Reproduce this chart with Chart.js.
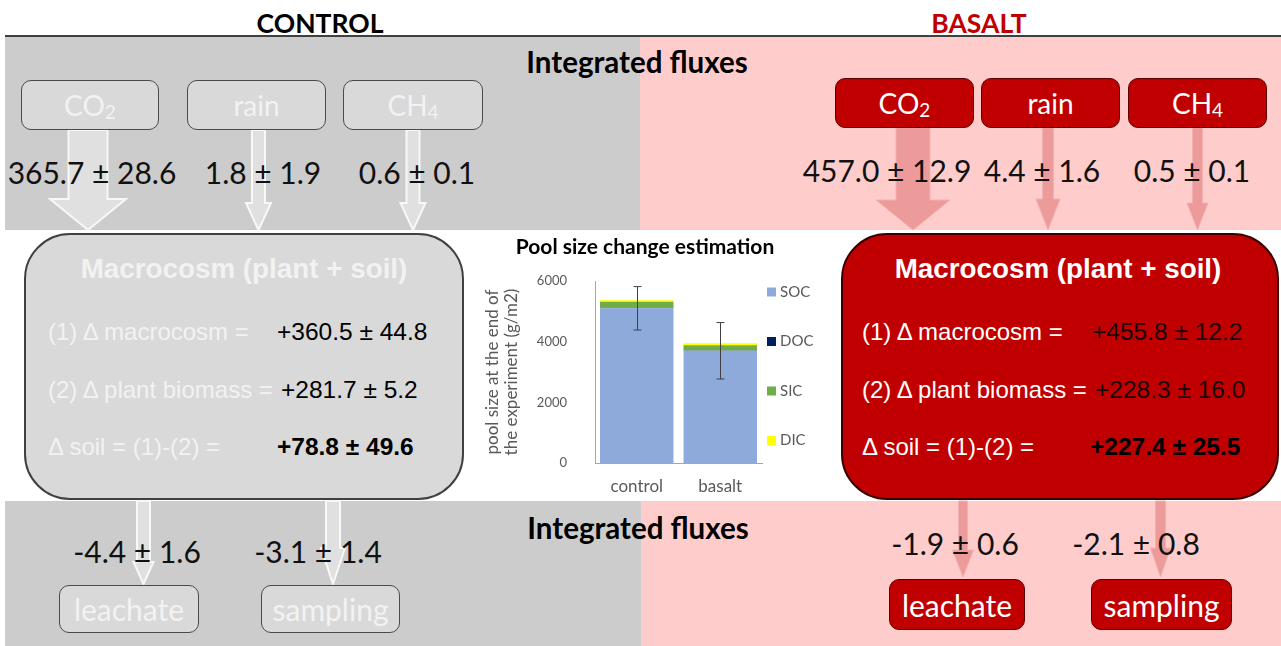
<!DOCTYPE html>
<html>
<head>
<meta charset="utf-8">
<script src="https://cdn.jsdelivr.net/npm/chart.js@4.4.1/dist/chart.umd.min.js"></script>
<style>
  body { margin: 0; background: #fff; }
  #page { position: relative; width: 1281px; height: 646px; overflow: hidden; font-family: Lato, sans-serif; }
  .band { position: absolute; }
  .t { position: absolute; white-space: nowrap; line-height: 1; transform: translate(-50%, -50%); }
  .l { position: absolute; white-space: nowrap; line-height: 1; transform: translateY(-50%); }
  .box { position: absolute; box-sizing: border-box; border-radius: 10px; display: flex; align-items: center; justify-content: center; font-size: 28px; }
  .ctl { background: #d9d9d9; border: 1.5px solid #4a4a4a; color: #f2f2f2; }
  .bas { background: #c00000; border: 1.5px solid #5c0000; color: #fff; }
  .val { font-size: 30px; color: #111; }
  .macro { position: absolute; box-sizing: border-box; border-radius: 46px; top: 233px; height: 267px; }
  .mt { font-family: "Liberation Sans", Arial, sans-serif; font-weight: bold; font-size: 27.8px; }
  .ml { font-family: "Liberation Sans", Arial, sans-serif; font-size: 24px; }
  .mv { font-family: "Liberation Sans", Arial, sans-serif; font-size: 24.5px; }
  .sub { font-size: 0.68em; position: relative; top: 0.32em; }
  #chartBox { position: absolute; left: 470px; top: 233px; width: 350px; height: 267px; }
</style>
</head>
<body>
<div id="page">
  <!-- backgrounds -->
  <div class="band" style="left:5px;top:37px;width:635px;height:193px;background:#cccccc"></div>
  <div class="band" style="left:640px;top:37px;width:641px;height:193px;background:#ffcccc"></div>
  <div class="band" style="left:5px;top:501px;width:636px;height:145px;background:#cccccc"></div>
  <div class="band" style="left:641px;top:501px;width:640px;height:145px;background:#ffcccc"></div>
  <div class="band" style="left:5px;top:35px;width:1276px;height:2px;background:#404040"></div>

  <div class="t" style="left:320px;top:23px;font-size:26.5px;font-weight:bold;color:#000">CONTROL</div>
  <div class="t" style="left:979px;top:23px;font-size:26.5px;font-weight:bold;color:#c00000">BASALT</div>
  <div class="t" style="left:637px;top:62px;font-size:29.5px;font-weight:bold;color:#000">Integrated fluxes</div>
  <div class="t" style="left:638px;top:528px;font-size:29.5px;font-weight:bold;color:#000">Integrated fluxes</div>

  <!-- arrows -->
  <svg width="1281" height="646" style="position:absolute;left:0;top:0">
    <g fill="#e0e0e0" stroke="#f8f8f8" stroke-width="2">
      <polygon points="68.5,130 107.5,130 107.5,199 126,199 88,230 50,199 68.5,199"/>
      <polygon points="252,130 265,130 265,203 271,203 258.5,230 246,203 252,203"/>
      <polygon points="406.5,130 419.5,130 419.5,203 425.5,203 413,230 400.5,203 406.5,203"/>
      <polygon points="137,501 150,501 150,562 153.5,562 143.5,584 133.5,562 137,562"/>
      <polygon points="326,501 340,501 340,548 345,548 333,584 321,548 326,548"/>
    </g>
    <g fill="#ec9a9a" stroke="#f2b0b0" stroke-width="1">
      <polygon points="896,127 930,127 930,200 950,200 913,230 876,200 896,200"/>
      <polygon points="1042.5,127 1053.5,127 1053.5,199 1060,199 1048,230 1036,199 1042.5,199"/>
      <polygon points="1192.5,127 1202.5,127 1202.5,203 1208,203 1197.5,230 1187,203 1192.5,203"/>
      <polygon points="958.5,501 967.5,501 967.5,550 973.5,550 963,577 952.5,550 958.5,550"/>
      <polygon points="1155.5,501 1165.5,501 1165.5,548 1170.5,548 1160.5,577 1150.5,548 1155.5,548"/>
    </g>
  </svg>

  <!-- control top boxes -->
  <div class="box ctl" style="left:21px;top:80px;width:138px;height:50px">CO<span class="sub">2</span></div>
  <div class="box ctl" style="left:187px;top:80px;width:139px;height:50px">rain</div>
  <div class="box ctl" style="left:343px;top:80px;width:140px;height:50px">CH<span class="sub">4</span></div>
  <!-- basalt top boxes -->
  <div class="box bas" style="left:835px;top:78px;width:139px;height:50px">CO<span class="sub">2</span></div>
  <div class="box bas" style="left:981px;top:78px;width:139px;height:50px">rain</div>
  <div class="box bas" style="left:1128px;top:78px;width:139px;height:50px">CH<span class="sub">4</span></div>

  <div class="t val" style="left:92px;top:172px">365.7 ± 28.6</div>
  <div class="t val" style="left:263px;top:172px">1.8 ± 1.9</div>
  <div class="t val" style="left:417px;top:172px">0.6 ± 0.1</div>
  <div class="t val" style="left:887px;top:170px">457.0 ± 12.9</div>
  <div class="t val" style="left:1042px;top:170px">4.4 ± 1.6</div>
  <div class="t val" style="left:1192px;top:170px">0.5 ± 0.1</div>

  <!-- macrocosm boxes -->
  <div class="macro" style="left:24px;width:440px;background:#d9d9d9;border:2px solid #404040"></div>
  <div class="macro" style="left:841px;width:438px;background:#c00000;border:2px solid #3a0000"></div>

  <div class="t mt" style="left:244px;top:269px;color:#f2f2f2">Macrocosm (plant + soil)</div>
  <div class="l ml" style="left:48px;top:332px;color:#f2f2f2">(1) Δ macrocosm =</div>
  <div class="l mv" style="left:277px;top:332px;color:#000">+360.5 ± 44.8</div>
  <div class="l ml" style="left:48px;top:390px;color:#f2f2f2">(2) Δ plant biomass =</div>
  <div class="l mv" style="left:281px;top:390px;color:#000">+281.7 ± 5.2</div>
  <div class="l ml" style="left:48px;top:447px;color:#f2f2f2">Δ soil = (1)-(2) =</div>
  <div class="l mv" style="left:277px;top:447px;color:#000;font-weight:bold">+78.8 ± 49.6</div>

  <div class="t mt" style="left:1058px;top:269px;color:#fff">Macrocosm (plant + soil)</div>
  <div class="l ml" style="left:862px;top:332px;color:#fff">(1) Δ macrocosm =</div>
  <div class="l mv" style="left:1092px;top:332px;color:#1a0000">+455.8 ± 12.2</div>
  <div class="l ml" style="left:862px;top:390px;color:#fff">(2) Δ plant biomass =</div>
  <div class="l mv" style="left:1095px;top:390px;color:#1a0000">+228.3 ± 16.0</div>
  <div class="l ml" style="left:862px;top:447px;color:#fff">Δ soil = (1)-(2) =</div>
  <div class="l mv" style="left:1090px;top:447px;color:#000;font-weight:bold">+227.4 ± 25.5</div>

  <!-- bottom -->
  <div class="t val" style="left:137px;top:551px">-4.4 ± 1.6</div>
  <div class="t val" style="left:318px;top:551px">-3.1 ± 1.4</div>
  <div class="t val" style="left:955px;top:543px">-1.9 ± 0.6</div>
  <div class="t val" style="left:1136px;top:543px">-2.1 ± 0.8</div>

  <div class="box ctl" style="left:59px;top:585px;width:140px;height:48px;font-size:30px">leachate</div>
  <div class="box ctl" style="left:261px;top:585px;width:139px;height:48px;font-size:30px">sampling</div>
  <div class="box bas" style="left:889px;top:579px;width:136px;height:51px;font-size:30px">leachate</div>
  <div class="box bas" style="left:1091px;top:579px;width:141px;height:51px;font-size:30px">sampling</div>

  <div id="chartBox"><canvas id="poolChart"></canvas></div>
</div>

<script>
// Pool size at end of experiment (g/m2)
const categories = ["control", "basalt"];
const socValues = [5100, 3700];
const docValues = [12, 10];
const sicValues = [200, 170];
const dicValues = [50, 65];
const socErrors = [715, 930];
const yTicks = [0, 2000, 4000, 6000];

const seriesNames = ["SOC", "DOC", "SIC", "DIC"];
const seriesColors = ["#8eaadb", "#002060", "#70ad47", "#ffff00"];
const chartTitle = "Pool size change estimation";

// error bars on SOC
const errorBars = {
  id: "errorBars",
  afterDatasetsDraw(chart) {
    const { ctx, scales: { x, y } } = chart;
    ctx.save();
    ctx.strokeStyle = "#404040";
    ctx.lineWidth = 1;
    socValues.forEach((v, i) => {
      const px = Math.round(x.getPixelForValue(i)) + 0.5;
      const top = y.getPixelForValue(v + socErrors[i]);
      const bot = y.getPixelForValue(v - socErrors[i]);
      ctx.beginPath();
      ctx.moveTo(px, top);
      ctx.lineTo(px, bot);
      ctx.moveTo(px - 4, top);
      ctx.lineTo(px + 4, top);
      ctx.moveTo(px - 4, bot);
      ctx.lineTo(px + 4, bot);
      ctx.stroke();
    });
    ctx.restore();
  },
};

// legend stacked on the right + title centred on the whole canvas
const sideLegend = {
  id: "sideLegend",
  afterDraw(chart) {
    const { ctx, chartArea } = chart;
    ctx.save();
    ctx.textBaseline = "middle";
    ctx.font = "bold 21px Lato";
    ctx.fillStyle = "#000";
    ctx.textAlign = "center";
    ctx.fillText(chartTitle, chart.width / 2, 14);
    ctx.textAlign = "left";
    ctx.font = "15px Lato";
    chart.data.datasets.forEach((ds, i) => {
      const cy = chartArea.top + 11 + i * 49.5;
      const bx = chartArea.right + 5;
      ctx.fillStyle = ds.backgroundColor;
      ctx.fillRect(bx, cy - 4.5, 9, 9);
      ctx.fillStyle = "#595959";
      ctx.fillText(ds.label, bx + 13, cy);
    });
    ctx.restore();
  },
};

const allValues = [socValues, docValues, sicValues, dicValues];

new Chart(document.getElementById("poolChart"), {
  type: "bar",
  data: {
    labels: categories,
    datasets: allValues.map((vals, i) => ({
      label: seriesNames[i],
      data: vals,
      backgroundColor: seriesColors[i],
      borderWidth: 0,
      categoryPercentage: 1,
      barPercentage: 0.88,
    })),
  },
  options: {
    responsive: true,
    maintainAspectRatio: false,
    animation: false,
    layout: { padding: { top: 48, right: 58, bottom: 0 } },
    plugins: {
      legend: { display: false },
      tooltip: { enabled: false },
      title: { display: false },
    },
    scales: {
      x: {
        stacked: true,
        grid: { display: false, drawTicks: false },
        border: { color: "#a6a6a6" },
        afterFit: (axis) => {
          axis.height = 37;
        },
        ticks: { color: "#595959", font: { family: "Lato", size: 17 }, padding: 13 },
      },
      y: {
        stacked: true,
        min: 0,
        max: 6000,
        grid: { display: false, drawTicks: false },
        border: { color: "#a6a6a6" },
        afterBuildTicks: (axis) => {
          axis.ticks = yTicks.map((v) => ({ value: v }));
        },
        afterFit: (axis) => {
          axis.width = 125;
        },
        ticks: {
          color: "#595959",
          font: { family: "Lato", size: 13 },
          padding: 28,
          callback: (v) => String(v),
        },
        title: {
          display: true,
          text: ["pool size at the end of", "the experiment (g/m2)"],
          color: "#595959",
          font: { family: "Lato", size: 17, lineHeight: 1.12 },
          padding: { top: 13, bottom: 0 },
        },
      },
    },
  },
  plugins: [errorBars, sideLegend],
});
</script>
</body>
</html>
